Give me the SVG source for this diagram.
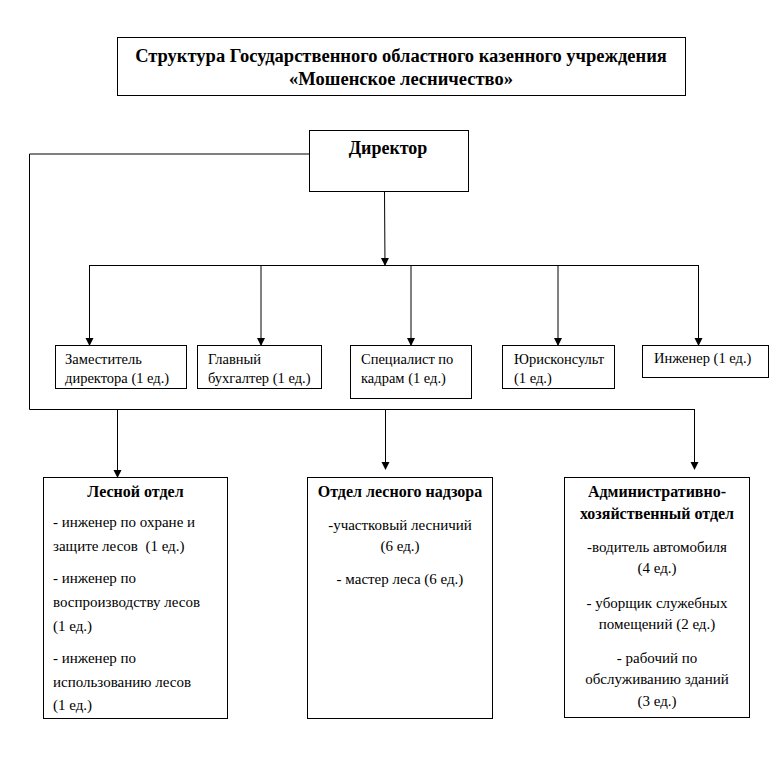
<svg xmlns="http://www.w3.org/2000/svg" width="777" height="762" viewBox="0 0 777 762">
<defs>
<marker id="ah" markerWidth="8" markerHeight="10" refX="7" refY="4" orient="auto" markerUnits="userSpaceOnUse" viewBox="0 0 8 8">
<path d="M0,0 L8,4 L0,8 Z" fill="#000"/>
</marker>
<style>
.box{fill:#fff;stroke:#000;stroke-width:1}
.t{font-family:"Liberation Serif","Times New Roman",serif;font-size:14.5px;fill:#000}
.s{font-family:"Liberation Serif","Times New Roman",serif;font-size:15px;fill:#000}
.b{font-family:"Liberation Serif","Times New Roman",serif;font-size:16px;font-weight:bold;fill:#000}
.h{font-family:"Liberation Serif","Times New Roman",serif;font-size:18.5px;font-weight:bold;fill:#000}
.ln{fill:none;stroke:#000;stroke-width:1}
.ar{fill:none;stroke:#000;stroke-width:1;marker-end:url(#ah)}
</style>
</defs>
<rect width="777" height="762" fill="#fff"/>
<g id="title">
<rect class="box" x="117.5" y="37.5" width="568" height="58"/>
<text class="h" x="401" y="62" text-anchor="middle">Структура Государственного областного казенного учреждения</text>
<text class="h" x="401" y="85" text-anchor="middle">«Мошенское лесничество»</text>
</g>
<g id="connectors">
<polyline class="ln" points="309,154 29.5,154 29.5,409.5 694.5,409.5"/>
<line class="ar" x1="384.5" y1="191" x2="385" y2="265"/>
<line class="ln" x1="89" y1="265.5" x2="698.5" y2="265.5"/>
<line class="ar" x1="89.5" y1="265" x2="89.5" y2="345"/>
<line class="ar" x1="261" y1="265" x2="261" y2="345"/>
<line class="ar" x1="411" y1="265" x2="411" y2="345"/>
<line class="ar" x1="558" y1="265" x2="558" y2="345"/>
<line class="ar" x1="698.5" y1="265" x2="698.5" y2="345"/>
<line class="ar" x1="117.5" y1="409" x2="117.5" y2="477"/>
<line class="ar" x1="385.5" y1="409" x2="385.5" y2="469"/>
<line class="ar" x1="694.5" y1="409" x2="694.5" y2="469"/>
</g>
<g id="director">
<rect class="box" x="309.5" y="130.5" width="159" height="61"/>
<text class="h" x="388" y="154" text-anchor="middle" style="font-size:18px">Директор</text>
</g>
<g id="zam">
<rect class="box" x="55.5" y="345.5" width="131" height="43"/>
<text class="t" x="65" y="364">Заместитель</text>
<text class="t" x="65" y="383">директора (1 ед.)</text>
</g>
<g id="glav">
<rect class="box" x="197.5" y="345.5" width="124" height="43"/>
<text class="t" x="208" y="364">Главный</text>
<text class="t" x="208" y="383">бухгалтер (1 ед.)</text>
</g>
<g id="spec">
<rect class="box" x="350.5" y="345.5" width="121" height="53"/>
<text class="t" x="361" y="364">Специалист по</text>
<text class="t" x="361" y="383">кадрам (1 ед.)</text>
</g>
<g id="yur">
<rect class="box" x="502.5" y="345.5" width="112" height="43"/>
<text class="t" x="514" y="364">Юрисконсульт</text>
<text class="t" x="514" y="383">(1 ед.)</text>
</g>
<g id="inzh">
<rect class="box" x="642.5" y="345.5" width="126" height="32"/>
<text class="t" x="654" y="363">Инженер (1 ед.)</text>
</g>
<g id="les">
<rect class="box" x="43.5" y="477.5" width="184" height="241"/>
<text class="b" x="135.5" y="497" text-anchor="middle">Лесной отдел</text>
<text class="s" x="53" y="527">- инженер по охране и</text>
<text class="s" x="53" y="551" xml:space="preserve">защите лесов  (1 ед.)</text>
<text class="s" x="53" y="583">- инженер по</text>
<text class="s" x="53" y="607">воспроизводству лесов</text>
<text class="s" x="53" y="631">(1 ед.)</text>
<text class="s" x="53" y="663">- инженер по</text>
<text class="s" x="53" y="687">использованию лесов</text>
<text class="s" x="53" y="710">(1 ед.)</text>
</g>
<g id="nadzor">
<rect class="box" x="307.5" y="477.5" width="185" height="241"/>
<text class="b" x="400" y="497" text-anchor="middle">Отдел лесного надзора</text>
<text class="s" x="400" y="530" text-anchor="middle">-участковый лесничий</text>
<text class="s" x="400" y="551" text-anchor="middle">(6 ед.)</text>
<text class="s" x="400" y="584" text-anchor="middle">- мастер леса (6 ед.)</text>
</g>
<g id="admin">
<rect class="box" x="564.5" y="477.5" width="185" height="240"/>
<text class="b" x="657" y="497" text-anchor="middle">Административно-</text>
<text class="b" x="657" y="519" text-anchor="middle">хозяйственный отдел</text>
<text class="s" x="657" y="552" text-anchor="middle">-водитель автомобиля</text>
<text class="s" x="657" y="573" text-anchor="middle">(4 ед.)</text>
<text class="s" x="657" y="608" text-anchor="middle">- уборщик служебных</text>
<text class="s" x="657" y="629" text-anchor="middle">помещений (2 ед.)</text>
<text class="s" x="657" y="663" text-anchor="middle">- рабочий по</text>
<text class="s" x="657" y="684" text-anchor="middle">обслуживанию зданий</text>
<text class="s" x="657" y="706" text-anchor="middle">(3 ед.)</text>
</g>
</svg>
